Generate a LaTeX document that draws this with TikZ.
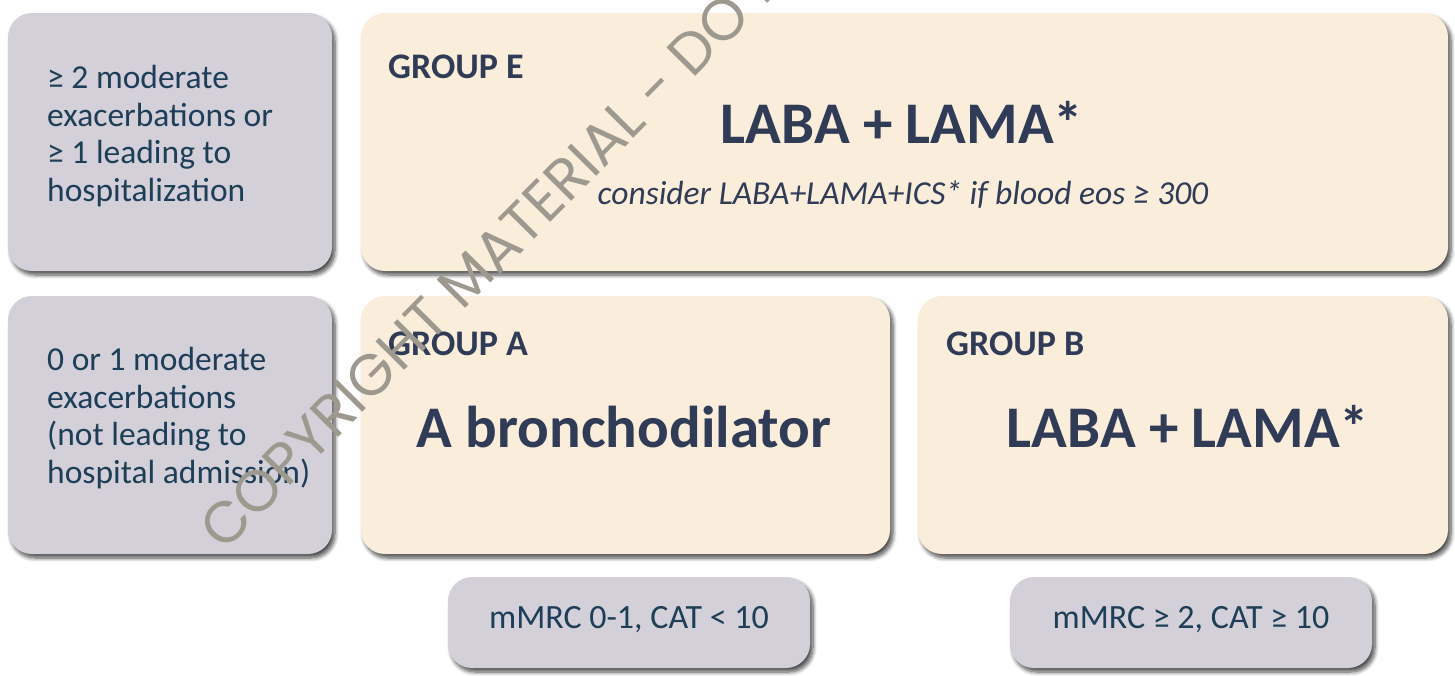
\documentclass[tikz,border=0pt]{standalone}
\usepackage{fontspec}
\setmainfont{Carlito}
\newfontfamily\wmfont{Poppins}
\usetikzlibrary{shadows,shadows.blur}
\definecolor{greybox}{HTML}{D3D0D9}
\definecolor{creambox}{HTML}{FAEDD9}
\definecolor{navytext}{HTML}{2F3B57}
\definecolor{tealtext}{HTML}{1C3F57}
\definecolor{wmgrey}{HTML}{9E998E}
\tikzset{
  boxbase/.style={rounded corners=24pt, draw=none, inner sep=0pt,
    blur shadow={shadow xshift=3pt, shadow yshift=-4pt, shadow blur radius=4pt,
      shadow blur steps=8, shadow opacity=70}},
  greyb/.style={boxbase, fill=greybox},
  creamb/.style={boxbase, fill=creambox},
  grouplbl/.style={anchor=base west, inner sep=0pt, text=navytext, font=\fontsize{36}{42}\selectfont\bfseries},
  bigtxt/.style={anchor=base, inner sep=0pt, text=navytext, font=\fontsize{59}{70}\selectfont\bfseries},
  sidetxt/.style={anchor=west, inner sep=0pt, align=left, text=tealtext, font=\fontsize{33.5}{37.5}\selectfont},
  crittxt/.style={inner sep=0pt, text=tealtext, font=\fontsize{34}{40}\selectfont},
}
\begin{document}
\begin{tikzpicture}[x=1pt,y=-1pt]
\useasboundingbox (0,0) rectangle (1455,675);
\clip (0,0) rectangle (1455,675);
% boxes
\path[greyb]  (8,13)   rectangle (332,271);
\path[greyb]  (8,296)  rectangle (332,554);
\path[creamb] (361,13) rectangle (1448,271);
\path[creamb] (361,296) rectangle (890,554);
\path[creamb] (918,296) rectangle (1448,554);
\path[greyb]  (448,577) rectangle (810,668);
\path[greyb]  (1010,577) rectangle (1372,668);
% texts
\node[sidetxt] (t1) at (47,136) {≥ 2 moderate\\exacerbations or\\≥ 1 leading to\\hospitalization};
\node[sidetxt] (t2) at (47,418) {0 or 1 moderate\\exacerbations\\(not leading to\\hospital admission)};
\node[grouplbl] (ge) at (388,78) {GROUP E};
\node[bigtxt] (le) at (902,143) {LABA + LAMA*};
\node[anchor=base, inner sep=0pt, text=navytext, font=\fontsize{33.5}{40}\selectfont\itshape] (ce) at (903,204) {consider LABA+LAMA+ICS* if blood eos ≥ 300};
\node[grouplbl] (ga) at (388,355) {GROUP A};
\node[bigtxt] (la) at (624,447) {A bronchodilator};
\node[grouplbl] (gb) at (946,355) {GROUP B};
\node[bigtxt] (lb) at (1188,447) {LABA + LAMA*};
\node[crittxt] (c1) at (629,620) {mMRC 0-1, CAT < 10};
\node[crittxt] (c2) at (1191,620) {mMRC ≥ 2, CAT ≥ 10};
% watermark
\node[anchor=base west, inner sep=0pt, rotate=45.3, text=wmgrey, font=\wmfont\fontsize{58}{66}\selectfont] (wm) at (224,553)
  {COPYRIGHT MATERIAL - DO NOT COPY};
\end{tikzpicture}
\end{document}
